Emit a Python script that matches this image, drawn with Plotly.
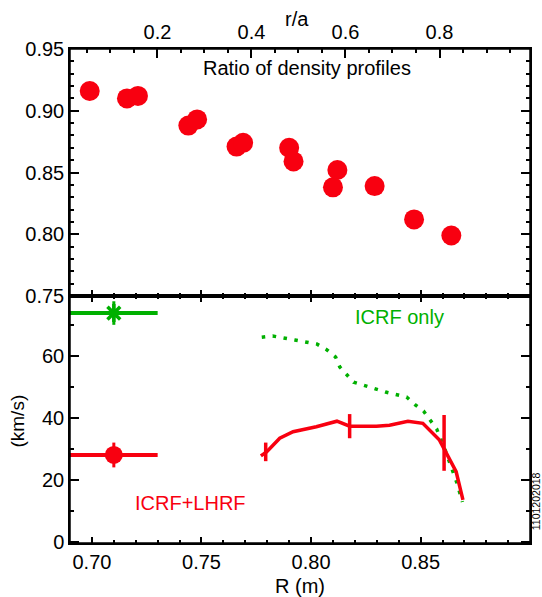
import plotly.graph_objects as go

# ---- data ----
ratio_R = [0.699, 0.716, 0.721, 0.744, 0.748, 0.766, 0.769, 0.790, 0.792, 0.810, 0.812, 0.829, 0.847, 0.864]
ratio_val = [0.916, 0.910, 0.912, 0.888, 0.893, 0.871, 0.874, 0.870, 0.859, 0.838, 0.852, 0.839, 0.812, 0.799]

icrf_pt_R = [0.71]
icrf_pt_v = [73.8]
icrf_pt_xerr = [0.02]
icrf_pt_yerr = [3.8]

lh_pt_R = [0.71]
lh_pt_v = [28.0]
lh_pt_xerr = [0.02]
lh_pt_yerr = [4.0]

icrf_R = [0.7775, 0.7825, 0.7926, 0.8026, 0.8071, 0.8112, 0.8131, 0.8162, 0.8194, 0.8240,
          0.8340, 0.8436, 0.8477, 0.8513, 0.8541, 0.8573, 0.8609, 0.8641, 0.8664, 0.8691]
icrf_v = [66.0, 66.4, 65.1, 63.8, 62.0, 59.6, 56.4, 53.8, 51.5, 50.5,
          48.3, 46.7, 44.1, 42.2, 39.3, 36.4, 30.2, 24.1, 19.3, 12.8]

lh_R = [0.7771, 0.7797, 0.7857, 0.7918, 0.8024, 0.8118, 0.8176, 0.8298, 0.8358, 0.8442,
        0.8510, 0.8586, 0.8662, 0.8693]
lh_v = [27.7, 29.0, 33.4, 35.5, 37.1, 38.9, 37.3, 37.3, 37.6, 38.9,
        38.2, 32.8, 22.6, 13.5]

lh_err_R = [0.7793, 0.8176, 0.8607]
lh_err_v = [29.0, 37.3, 31.9]
lh_err = [3.0, 3.9, 9.0]

RED = "#f80010"
GREEN = "#00b000"
FONT = "Liberation Sans, Arial, Helvetica, sans-serif"

fig = go.Figure()
fig.update_layout(template="none")

# top panel
fig.add_trace(go.Scatter(x=ratio_R, y=ratio_val, mode="markers", xaxis="x2", yaxis="y2",
                         marker=dict(color=RED, size=20, line=dict(width=0)), showlegend=False))
# invisible trace that activates the r/a axis
fig.add_trace(go.Scatter(x=[0.5], y=[0.85], mode="markers", xaxis="x3", yaxis="y2",
                         marker=dict(size=1, color="rgba(0,0,0,0)"), hoverinfo="skip",
                         showlegend=False))

# bottom panel
fig.add_trace(go.Scatter(x=icrf_R, y=icrf_v, mode="lines", xaxis="x", yaxis="y",
                         line=dict(color=GREEN, width=3.5, dash="3.5px,7.5px"), showlegend=False))
fig.add_trace(go.Scatter(x=lh_R, y=lh_v, mode="lines", xaxis="x", yaxis="y",
                         line=dict(color=RED, width=3.5), showlegend=False))
fig.add_trace(go.Scatter(x=lh_err_R, y=lh_err_v, mode="markers", xaxis="x", yaxis="y",
                         marker=dict(size=1, color="rgba(0,0,0,0)"),
                         error_y=dict(type="data", array=lh_err, color=RED, thickness=3.5, width=0),
                         showlegend=False))
fig.add_trace(go.Scatter(x=icrf_pt_R, y=icrf_pt_v, mode="markers", xaxis="x", yaxis="y",
                         marker=dict(symbol="asterisk-open", size=15, color=GREEN,
                                     line=dict(color=GREEN, width=3.5)),
                         error_x=dict(type="data", array=icrf_pt_xerr, color=GREEN, thickness=4, width=0),
                         error_y=dict(type="data", array=icrf_pt_yerr, color=GREEN, thickness=3, width=0),
                         showlegend=False))
fig.add_trace(go.Scatter(x=lh_pt_R, y=lh_pt_v, mode="markers", xaxis="x", yaxis="y",
                         marker=dict(symbol="circle", size=18, color=RED),
                         error_x=dict(type="data", array=lh_pt_xerr, color=RED, thickness=4, width=0),
                         error_y=dict(type="data", array=lh_pt_yerr, color=RED, thickness=3, width=0),
                         showlegend=False))

axis_common = dict(showline=True, linecolor="black", linewidth=1.5, showgrid=False, zeroline=False,
                   ticks="inside", tickcolor="black", tickwidth=1.5,
                   tickfont=dict(family=FONT, size=20, color="black"))

fig.update_layout(
    width=542, height=597,
    margin=dict(l=70, r=12, t=49, b=54),
    paper_bgcolor="white", plot_bgcolor="white",
    font=dict(family=FONT, size=20, color="black"),
    xaxis=dict(**axis_common, anchor="y", domain=[0, 1], range=[0.69, 0.8999],
               tickmode="linear", tick0=0.70, dtick=0.05, tickformat=".2f", ticklen=6,
               mirror="ticks",
               minor=dict(tickmode="linear", tick0=0.70, dtick=0.01, ticklen=3, ticks="inside",
                          tickcolor="black")),
    xaxis2=dict(**axis_common, anchor="y2", range=[0.69, 0.8999],
                tickmode="linear", tick0=0.70, dtick=0.05, ticklen=6, showticklabels=False,
                minor=dict(tickmode="linear", tick0=0.70, dtick=0.01, ticklen=3, ticks="inside",
                           tickcolor="black")),
    xaxis3=dict(**axis_common, anchor="y2", overlaying="x2", side="top",
                range=[0.014, 0.9925], tickmode="linear", tick0=0, dtick=0.2, tickformat=".1f",
                ticklen=9,
                minor=dict(tickmode="linear", tick0=0, dtick=0.05, ticklen=4, ticks="inside",
                           tickcolor="black")),
    yaxis=dict(**axis_common, anchor="x", domain=[0, 0.5], range=[-0.4, 79.3],
               tickmode="linear", tick0=0, dtick=20, ticklen=9, mirror="ticks",
               minor=dict(tickmode="linear", tick0=0, dtick=10, ticklen=4, ticks="inside",
                          tickcolor="black")),
    yaxis2=dict(**axis_common, anchor="x2", domain=[0.5, 1], range=[0.75, 0.95],
                tickmode="linear", tick0=0.75, dtick=0.05, tickformat=".2f", ticklen=9,
                mirror="ticks",
                minor=dict(tickmode="linear", tick0=0.75, dtick=0.01, ticklen=4, ticks="inside",
                           tickcolor="black")),
    shapes=[
        dict(type="rect", xref="paper", yref="paper", x0=0, x1=1, y0=0, y1=1,
             line=dict(color="black", width=1.5), fillcolor="rgba(0,0,0,0)", layer="above"),
    ],
    annotations=[
        dict(text="Ratio of density profiles", xref="paper", yref="paper", x=0.515, y=0.9615,
             xanchor="center", yanchor="middle", showarrow=False,
             font=dict(size=20, color="black")),
        dict(text="ICRF only", xref="x", yref="y", x=0.8404, y=72.6, xanchor="center",
             yanchor="middle", showarrow=False, font=dict(size=20, color=GREEN)),
        dict(text="ICRF+LHRF", xref="x", yref="y", x=0.7449, y=12.5, xanchor="center",
             yanchor="middle", showarrow=False, font=dict(size=20, color=RED)),
        dict(text="(km/s)", xref="paper", yref="paper", x=-0.114, y=0.247, textangle=-90,
             xanchor="center", yanchor="middle", showarrow=False,
             font=dict(size=19, color="black")),
        dict(text="R (m)", xref="paper", yref="paper", x=0.5, y=-0.087, xanchor="center",
             yanchor="middle", showarrow=False, font=dict(size=20, color="black")),
        dict(text="r/a", xref="paper", yref="paper", x=0.4935, y=1.0607, xanchor="center",
             yanchor="middle", showarrow=False, font=dict(size=20, color="black")),
        dict(text="1101202018", xref="paper", yref="paper", x=1.0135, y=0.085, textangle=-90,
             xanchor="center", yanchor="middle", showarrow=False,
             font=dict(size=10.5, color="black")),
    ],
)

fig.write_html("out.html")
